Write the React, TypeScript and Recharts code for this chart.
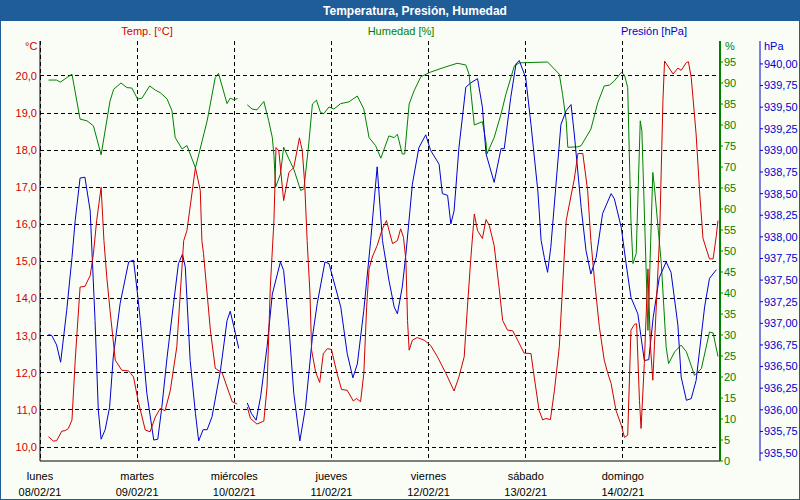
import React from "react";
import { LineChart, Line, XAxis, YAxis, CartesianGrid } from "recharts";

// hours since 08/02/21 00:00 -> value ; null marks the data gap
const temperature: [number, number | null][] = [
  [2.1, 10.28], [3.3, 10.16], [4.1, 10.17], [5.4, 10.43], [6.2, 10.44], [7.0, 10.5], [7.9, 10.73],
  [8.7, 12.34], [9.9, 14.31], [11.1, 14.33], [12.4, 14.62], [13.2, 15.21], [14.0, 16.1], [15.1, 17.0],
  [15.8, 15.56], [16.5, 14.58], [17.3, 13.68], [18.6, 12.34], [20.2, 12.07], [21.9, 12.05], [23.1, 11.89],
  [24.3, 11.22], [26.0, 10.46], [27.2, 10.41], [28.5, 10.81], [29.7, 11.04], [30.9, 10.98], [32.2, 11.53],
  [33.8, 12.7], [35.5, 15.56], [36.3, 15.83], [38.4, 17.53], [39.6, 16.91], [40.0, 15.56], [40.4, 15.21],
  [42.1, 13.15], [43.3, 12.12], [45.0, 12.0], [46.2, 11.62], [47.5, 11.22], [48.7, 11.16], [50, null],
  [51.2, 11.08], [52.0, 10.77], [53.6, 10.62], [55.3, 10.7], [56.1, 11.62], [56.9, 14.31], [57.8, 16.1],
  [58.3, 18.07], [59.0, 17.98], [60.2, 16.64], [61.5, 17.4], [62.7, 17.53], [64.1, 18.33], [64.8, 17.98],
  [65.4, 17.09], [66.0, 15.56], [66.7, 14.13], [67.1, 12.61], [68.1, 12.02], [69.1, 11.74], [70.0, 12.52],
  [71.0, 12.65], [72.0, 12.63], [73.4, 11.98], [74.5, 11.55], [75.9, 11.53], [77.4, 11.24], [78.2, 11.31],
  [79.2, 11.22], [80.0, 11.98], [80.7, 13.77], [81.3, 14.8], [82.1, 15.12], [83.3, 15.43], [84.6, 15.88],
  [85.6, 16.1], [87.1, 15.48], [88.3, 15.56], [89.1, 15.88], [89.8, 15.65], [90.4, 15.03], [90.8, 13.41],
  [91.2, 12.61], [92.0, 12.88], [93.2, 12.95], [94.9, 12.88], [96.5, 12.74], [98.2, 12.43], [100.3, 11.98],
  [102.3, 11.51], [103.5, 11.89], [104.8, 12.43], [105.6, 13.77], [106.4, 15.03], [107.3, 16.28],
  [108.1, 15.83], [109.3, 15.62], [110.2, 16.13], [111.0, 15.97], [112.2, 15.43], [113.4, 14.31],
  [114.3, 13.41], [115.5, 13.15], [116.8, 13.13], [118.0, 12.88], [119.6, 12.53], [121.3, 12.52],
  [122.1, 11.89], [123.3, 10.99], [124.2, 10.73], [125.0, 10.77], [126.1, 10.74], [127.1, 11.53],
  [128.3, 12.7], [129.1, 14.31], [130.0, 16.1], [130.8, 16.55], [132.0, 17.22], [132.9, 17.91],
  [134.1, 17.91], [135.3, 16.91], [136.1, 15.56], [137.0, 14.49], [138.2, 13.23], [139.4, 12.34],
  [140.3, 11.98], [141.1, 11.71], [142.3, 10.99], [143.6, 10.59], [144.4, 10.26], [145.2, 10.32],
  [146.0, 13.15], [146.9, 13.31], [147.4, 13.32], [148.1, 11.26], [148.5, 10.5], [149.3, 12.25],
  [150.2, 14.8], [150.8, 12.74], [151.4, 11.8], [151.8, 12.74], [153.1, 15.74], [153.9, 19.33],
  [154.3, 20.4], [156.4, 20.05], [157.6, 20.21], [158.4, 20.15], [159.7, 20.36], [160.2, 20.38],
  [160.9, 19.95], [162.1, 18.43], [163.0, 16.82], [163.8, 15.62], [165.4, 15.07], [166.3, 15.07],
  [167.1, 15.7], [167.5, 16.1],
];

const humidity: [number, number | null][] = [
  [2.1, 90.7], [4.1, 90.7], [5.0, 90.2], [7.9, 92.1], [9.9, 81.4], [11.6, 81.0], [13.2, 79.8], [15.1, 72.9],
  [17.3, 85.7], [18.2, 88.5], [20.0, 90.0], [21.5, 88.9], [22.7, 88.8], [24.1, 86.2], [25.2, 86.4],
  [27.1, 89.3], [28.5, 88.3], [29.7, 87.7], [31.4, 86.2], [32.6, 83.4], [33.4, 77.0], [35.1, 74.3],
  [36.3, 75.1], [38.4, 69.8], [41.3, 81.0], [43.3, 91.3], [44.1, 92.3], [46.2, 85.1], [47.0, 86.4],
  [47.9, 86.0], [48.8, 86.3], [50, null], [51.2, 84.8], [52.4, 83.8], [53.6, 83.6], [55.3, 85.6],
  [56.5, 81.0], [57.4, 77.0], [57.8, 72.7], [58.2, 65.2], [59.4, 68.3], [60.2, 74.7], [61.5, 71.9],
  [62.7, 69.5], [64.4, 64.4], [65.2, 64.8], [66.4, 75.5], [67.3, 85.0], [68.3, 85.9], [69.3, 83.0],
  [70.1, 82.7], [71.4, 84.3], [72.6, 83.8], [74.3, 85.1], [76.3, 85.5], [78.4, 86.9], [80.0, 83.8],
  [81.3, 77.0], [82.9, 75.1], [84.2, 72.1], [86.2, 77.4], [87.5, 77.0], [88.3, 77.8], [89.5, 73.1],
  [90.1, 73.1], [91.2, 85.0], [92.4, 88.1], [94.1, 91.5], [96.5, 92.6], [99.8, 93.7], [103.1, 94.7],
  [105.2, 94.3], [106.0, 92.1], [107.3, 80.0], [109.3, 80.8], [110.2, 75.8], [110.4, 73.1], [112.2, 77.0],
  [113.9, 82.6], [115.1, 87.3], [117.2, 94.1], [118.4, 94.8], [125.4, 95.0], [128.3, 92.1], [129.1, 87.3],
  [130.0, 81.0], [130.4, 74.7], [132.9, 74.8], [133.7, 75.1], [136.1, 79.0], [137.8, 85.3], [139.4, 89.3],
  [140.7, 89.5], [141.9, 90.5], [143.6, 92.5], [144.4, 91.9], [145.2, 88.9], [146.0, 57.2], [146.5, 47.0],
  [147.3, 49.4], [148.3, 81.0], [148.7, 78.6], [150.2, 31.1], [151.4, 68.7], [151.8, 65.2], [153.5, 47.0],
  [154.7, 27.1], [155.3, 23.2], [156.8, 26.0], [158.4, 27.6], [159.7, 26.0], [161.7, 20.4], [163.4, 22.0],
  [165.4, 30.7], [166.3, 30.5], [167.5, 24.9],
];

const pressure: [number, number | null][] = [
  [2.1, 936.87], [2.9, 936.86], [4.1, 936.75], [5.1, 936.55], [6.6, 937.15], [7.9, 937.76], [8.7, 938.19],
  [9.9, 938.68], [11.1, 938.69], [12.4, 938.3], [13.6, 937.03], [14.4, 936.0], [15.1, 935.66], [16.1, 935.77],
  [17.2, 936.03], [18.1, 936.61], [19.8, 937.23], [21.9, 937.71], [23.1, 937.73], [23.9, 937.42],
  [24.8, 937.03], [26.4, 936.19], [28.1, 935.65], [29.1, 935.66], [30.1, 936.03], [31.4, 936.61],
  [33.0, 937.23], [34.2, 937.69], [35.2, 937.8], [35.9, 937.65], [37.1, 936.57], [38.4, 935.96],
  [39.2, 935.64], [40.3, 935.77], [41.3, 935.77], [42.5, 935.92], [44.6, 936.46], [46.2, 937.03],
  [47.0, 937.14], [48.0, 936.94], [49.1, 936.71], [50, null], [51.2, 936.08], [52.2, 935.96],
  [53.4, 935.88], [54.5, 936.15], [56.1, 936.73], [57.4, 937.34], [59.4, 937.71], [60.2, 937.61],
  [61.5, 936.96], [62.7, 936.19], [64.2, 935.64], [65.6, 936.03], [67.3, 936.84], [68.5, 937.23],
  [70.4, 937.71], [71.4, 937.69], [74.3, 937.19], [75.9, 936.65], [77.3, 936.37], [78.4, 936.53],
  [80.0, 937.15], [81.7, 937.96], [83.3, 938.81], [84.6, 937.96], [86.2, 937.5], [87.5, 937.19],
  [88.3, 937.11], [89.5, 937.42], [90.4, 937.8], [92.0, 938.61], [93.6, 939.03], [95.3, 939.18],
  [96.5, 939.0], [98.6, 938.84], [99.4, 938.5], [100.7, 938.48], [101.5, 938.15], [102.3, 938.3],
  [103.5, 939.03], [105.2, 939.73], [106.4, 939.78], [108.1, 939.83], [109.3, 939.5], [110.2, 938.96],
  [112.2, 938.63], [113.9, 939.02], [114.7, 939.02], [116.3, 939.61], [117.6, 940.0], [118.4, 940.04],
  [120.0, 939.84], [121.3, 939.3], [123.0, 938.53], [123.8, 937.96], [124.6, 937.76], [125.4, 937.59],
  [126.2, 937.88], [128.7, 939.3], [130.0, 939.46], [131.2, 939.53], [132.0, 939.19], [133.7, 938.34],
  [134.9, 937.84], [136.1, 937.57], [137.4, 937.76], [139.0, 938.27], [141.1, 938.5], [141.9, 938.44],
  [143.6, 938.11], [144.8, 937.69], [146.0, 937.3], [147.7, 937.11], [149.3, 936.57], [150.4, 936.58],
  [151.5, 937.07], [153.0, 937.53], [154.7, 937.71], [155.9, 937.59], [157.6, 936.98], [158.4, 936.38],
  [159.7, 936.11], [160.9, 936.13], [162.1, 936.34], [164.2, 937.19], [165.4, 937.52], [167.1, 937.62],
];

const dayTicks = [0, 24, 48, 72, 96, 120, 144];
const dayNames = ["lunes", "martes", "miércoles", "jueves", "viernes", "sábado", "domingo"];
const dayDates = ["08/02/21", "09/02/21", "10/02/21", "11/02/21", "12/02/21", "13/02/21", "14/02/21"];
const tempTicks = [10, 11, 12, 13, 14, 15, 16, 17, 18, 19, 20];
const humTicks = [0, 5, 10, 15, 20, 25, 30, 35, 40, 45, 50, 55, 60, 65, 70, 75, 80, 85, 90, 95];
const presTicks = [
  935.5, 935.75, 936, 936.25, 936.5, 936.75, 937, 937.25, 937.5, 937.75,
  938, 938.25, 938.5, 938.75, 939, 939.25, 939.5, 939.75, 940,
];

const RED = "#d00000";
const GREEN = "#008000";
const BLUE = "#0000d0";
const FONT = "'Liberation Sans', Arial, sans-serif";

const toRows = (s: [number, number | null][]) => s.map(([h, v]) => ({ h, v }));

const DayTick = (props: any) => {
  const { x, y, payload } = props;
  const i = dayTicks.indexOf(payload.value);
  if (i < 0) return null;
  return (
    <g>
      <text x={x} y={y + 17} textAnchor="middle" fontSize={11} fontFamily={FONT} fill="#000">
        {dayNames[i]}
      </text>
      <text x={x} y={y + 33} textAnchor="middle" fontSize={11} fontFamily={FONT} fill="#000">
        {dayDates[i]}
      </text>
    </g>
  );
};

const comma = (v: number, d: number) => v.toFixed(d).replace(".", ",");

export default function App() {
  const label = (color: string): React.CSSProperties => ({
    position: "absolute",
    color,
    fontSize: 11,
    fontFamily: FONT,
    lineHeight: "14px",
    whiteSpace: "nowrap",
  });
  return (
    <div
      style={{
        position: "absolute",
        left: 0,
        top: 0,
        width: 800,
        height: 500,
        boxSizing: "border-box",
        border: "1px solid #1f5d99",
        background: "#fafdf6",
        overflow: "hidden",
      }}
    >
      <div style={{ position: "absolute", left: -1, top: -1 }}>
        <LineChart width={800} height={500} margin={{ top: 41, right: 0, bottom: 0, left: 0 }}>
          <CartesianGrid
            yAxisId="temp"
            stroke="#000"
            strokeDasharray="4 3"
            shapeRendering="crispEdges"
            horizontalValues={tempTicks}
            verticalValues={dayTicks}
          />
          <XAxis
            type="number"
            dataKey="h"
            domain={[0, 168]}
            ticks={dayTicks}
            interval={0}
            allowDataOverflow
            height={39}
            tickLine={false}
            tickSize={0}
            axisLine={{ stroke: "#000" }}
            tick={<DayTick />}
          />
          <XAxis
            xAxisId="top"
            orientation="top"
            type="number"
            dataKey="h"
            domain={[0, 168]}
            height={0}
            tick={false}
            tickLine={false}
            axisLine={{ stroke: "#000" }}
          />
          <YAxis
            yAxisId="temp"
            orientation="left"
            width={40}
            domain={[9.624, 20.94]}
            ticks={tempTicks}
            interval={0}
            allowDataOverflow
            tickLine={false}
            tickSize={0}
            tickMargin={3}
            axisLine={{ stroke: "#000" }}
            tick={{ fill: RED, fontSize: 11, fontFamily: FONT }}
            tickFormatter={(v: number) => comma(v, 1)}
          />
          <YAxis
            yAxisId="hum"
            orientation="right"
            width={40}
            domain={[0, 100]}
            ticks={humTicks}
            interval={0}
            allowDataOverflow
            tickSize={3}
            tickMargin={1}
            tickLine={{ stroke: GREEN }}
            axisLine={{ stroke: GREEN, strokeWidth: 2 }}
            tick={{ fill: GREEN, fontSize: 11, fontFamily: FONT, textAnchor: "start" }}
          />
          <YAxis
            yAxisId="pres"
            orientation="right"
            width={40}
            domain={[935.408, 940.265]}
            ticks={presTicks}
            interval={0}
            allowDataOverflow
            tickSize={3}
            tickMargin={1}
            tickLine={{ stroke: BLUE }}
            axisLine={{ stroke: BLUE }}
            tick={{ fill: BLUE, fontSize: 11, fontFamily: FONT, textAnchor: "start" }}
            tickFormatter={(v: number) => comma(v, 2)}
          />
          <Line
            data={toRows(humidity)}
            yAxisId="hum"
            dataKey="v"
            type="linear"
            stroke={GREEN}
            strokeWidth={1}
            dot={false}
            isAnimationActive={false}
          />
          <Line
            data={toRows(pressure)}
            yAxisId="pres"
            dataKey="v"
            type="linear"
            stroke={BLUE}
            strokeWidth={1}
            dot={false}
            isAnimationActive={false}
          />
          <Line
            data={toRows(temperature)}
            yAxisId="temp"
            dataKey="v"
            type="linear"
            stroke={RED}
            strokeWidth={1}
            dot={false}
            isAnimationActive={false}
          />
        </LineChart>
      </div>

      <div
        style={{
          position: "absolute",
          left: 0,
          top: 0,
          width: 800,
          height: 20,
          background: "#1f5d99",
        }}
      >
        <div
          style={{
            position: "absolute",
            left: 414,
            top: 3,
            transform: "translateX(-50%)",
            color: "#fff",
            fontWeight: "bold",
            fontSize: 12,
            fontFamily: FONT,
            whiteSpace: "nowrap",
          }}
        >
          Temperatura, Presión, Humedad
        </div>
      </div>

      <div style={{ ...label(RED), left: 146, top: 23, transform: "translateX(-50%)" }}>Temp. [°C]</div>
      <div style={{ ...label(GREEN), left: 400, top: 23, transform: "translateX(-50%)" }}>Humedad [%]</div>
      <div style={{ ...label(BLUE), left: 653, top: 23, transform: "translateX(-50%)" }}>Presión [hPa]</div>
      <div style={{ ...label(RED), left: 24, top: 38 }}>°C</div>
      <div style={{ ...label(GREEN), left: 724, top: 38 }}>%</div>
      <div style={{ ...label(BLUE), left: 763, top: 38 }}>hPa</div>
    </div>
  );
}
